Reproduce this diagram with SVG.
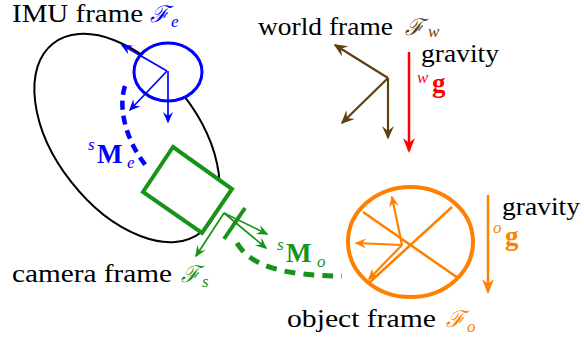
<svg xmlns="http://www.w3.org/2000/svg" width="584" height="340" viewBox="0 0 584 340">
<defs>
<style>
.t{font-size:25px;fill:#000}
.cal{font-size:23px;font-style:italic}
.sub{font-size:17px;font-style:italic}
.bold{font-size:27px;font-weight:bold}
.ax{fill:none;stroke-width:1.7}
</style>
<marker id="hb" viewBox="-11 -5 13 10" refX="0" refY="0" markerWidth="13" markerHeight="10" markerUnits="userSpaceOnUse" orient="auto"><path d="M1.5,0 L-10,-5 L-6,0 L-10,5 z" fill="#0000ff"/></marker>
<marker id="hw" viewBox="-13 -6 15 12" refX="0" refY="0" markerWidth="15" markerHeight="12" markerUnits="userSpaceOnUse" orient="auto"><path d="M1.5,0 L-12,-6 L-7,0 L-12,6 z" fill="#604010"/></marker>
<marker id="hg" viewBox="-11 -5 13 10" refX="0" refY="0" markerWidth="13" markerHeight="10" markerUnits="userSpaceOnUse" orient="auto"><path d="M1.5,0 L-10,-5 L-6,0 L-10,5 z" fill="#179317"/></marker>
<marker id="ho" viewBox="-11 -5 13 10" refX="0" refY="0" markerWidth="13" markerHeight="10" markerUnits="userSpaceOnUse" orient="auto"><path d="M1.5,0 L-10,-5 L-6,0 L-10,5 z" fill="#ff8000"/></marker>
<marker id="hrL" viewBox="-14 -6 16 12" refX="0" refY="0" markerWidth="16" markerHeight="12" markerUnits="userSpaceOnUse" orient="auto"><path d="M2,0 L-13,-6 L-8,0 L-13,6 z" fill="#ff0000"/></marker>
<marker id="hoL" viewBox="-14 -6 16 12" refX="0" refY="0" markerWidth="16" markerHeight="12" markerUnits="userSpaceOnUse" orient="auto"><path d="M2,0 L-13,-6 L-8,0 L-13,6 z" fill="#ff8000"/></marker>
</defs>
<rect width="584" height="340" fill="#fff"/>

<g id="imu-body">
<ellipse cx="127" cy="138" rx="120" ry="71" transform="rotate(52 127 138)" fill="none" stroke="#000" stroke-width="2"/>
</g>

<g font-family="Liberation Serif, Times New Roman, serif">

<g id="imu-frame">
<ellipse cx="168" cy="72" rx="34" ry="29" fill="#fff" stroke="#0000ff" stroke-width="3"/>
<g class="ax" stroke="#0000ff">
<line x1="167" y1="71" x2="122" y2="45" marker-end="url(#hb)"/>
<line x1="167" y1="71" x2="130" y2="110" marker-end="url(#hb)"/>
<line x1="168" y1="71" x2="168" y2="122" marker-end="url(#hb)"/>
</g>
<text class="t" x="12" y="22" textLength="131" lengthAdjust="spacingAndGlyphs">IMU frame</text>
<text class="cal" x="150" y="22" fill="#0000ff">ℱ</text>
<text class="sub" x="171" y="27" fill="#0000ff">e</text>
</g>

<g id="camera">
<polygon points="173,147 232,189 202,233 143,192" fill="#fff" stroke="#179317" stroke-width="4"/>
<line x1="245" y1="208" x2="224" y2="239" stroke="#179317" stroke-width="4"/>
<g class="ax" stroke="#179317">
<line x1="224" y1="213" x2="196" y2="256" marker-end="url(#hg)"/>
<line x1="224" y1="213" x2="267" y2="234" marker-end="url(#hg)"/>
<line x1="224" y1="213" x2="266" y2="248" marker-end="url(#hg)"/>
</g>
<text class="t" x="12" y="282" textLength="160" lengthAdjust="spacingAndGlyphs">camera frame</text>
<text class="cal" x="181" y="282" fill="#179317">ℱ</text>
<text class="sub" x="202" y="287" fill="#179317">s</text>
</g>

<g id="world">
<g stroke="#604010" stroke-width="2.2" fill="none">
<line x1="388" y1="78" x2="335" y2="45" marker-end="url(#hw)"/>
<line x1="388" y1="78" x2="342" y2="123" marker-end="url(#hw)"/>
<line x1="388" y1="78" x2="388" y2="138" marker-end="url(#hw)"/>
</g>
<text class="t" x="258" y="35" textLength="135" lengthAdjust="spacingAndGlyphs">world frame</text>
<text class="cal" x="405" y="35" fill="#604010">ℱ</text>
<text class="sub" x="428" y="37" fill="#604010">w</text>
</g>

<g id="world-gravity">
<line x1="409" y1="52" x2="409" y2="151" stroke="#ff0000" stroke-width="2.5" marker-end="url(#hrL)"/>
<text class="t" x="421" y="62" textLength="78" lengthAdjust="spacingAndGlyphs">gravity</text>
<text class="sub" x="417" y="83" fill="#ff0000">w</text>
<text class="bold" x="432" y="92" fill="#ff0000">g</text>
</g>

<g id="object">
<ellipse cx="410.5" cy="242" rx="62.5" ry="55" fill="none" stroke="#ff8000" stroke-width="4"/>
<line x1="363" y1="212" x2="458" y2="278" stroke="#ff8000" stroke-width="2.5"/>
<line x1="452" y1="207" x2="370" y2="282" stroke="#ff8000" stroke-width="2.5"/>
<g stroke="#ff8000" stroke-width="2.2" fill="none">
<line x1="402" y1="245" x2="392" y2="197" marker-end="url(#ho)"/>
<line x1="402" y1="245" x2="356" y2="243" marker-end="url(#ho)"/>
<line x1="402" y1="245" x2="369" y2="279" marker-end="url(#ho)"/>
</g>
<text class="t" x="287" y="327" textLength="149" lengthAdjust="spacingAndGlyphs">object frame</text>
<text class="cal" x="446" y="327" fill="#ff8000">ℱ</text>
<text class="sub" x="467" y="332" fill="#ff8000">o</text>
</g>

<g id="object-gravity">
<line x1="488" y1="195" x2="488" y2="292" stroke="#ff8000" stroke-width="2.5" marker-end="url(#hoL)"/>
<text class="t" x="502" y="215" textLength="78" lengthAdjust="spacingAndGlyphs">gravity</text>
<text class="sub" x="493" y="233" fill="#ff8000">o</text>
<text class="bold" x="505" y="245" fill="#ff8000">g</text>
</g>

<g id="connectors">
<path d="M125,86 C117,110 128,145 148,168" fill="none" stroke="#0000ff" stroke-width="4.5" stroke-dasharray="9 6"/>
<text class="sub" x="88" y="150" fill="#0000ff">s</text>
<text class="bold" x="97" y="163" fill="#0000ff">M</text>
<text class="sub" x="127" y="168" fill="#0000ff">e</text>
<path d="M237,243 C250,266 285,276 342,276" fill="none" stroke="#179317" stroke-width="5" stroke-dasharray="11 8"/>
<text class="sub" x="277" y="250" fill="#179317">s</text>
<text class="bold" x="286" y="262" fill="#179317">M</text>
<text class="sub" x="317" y="267" fill="#179317">o</text>
</g>
</g>
</svg>
